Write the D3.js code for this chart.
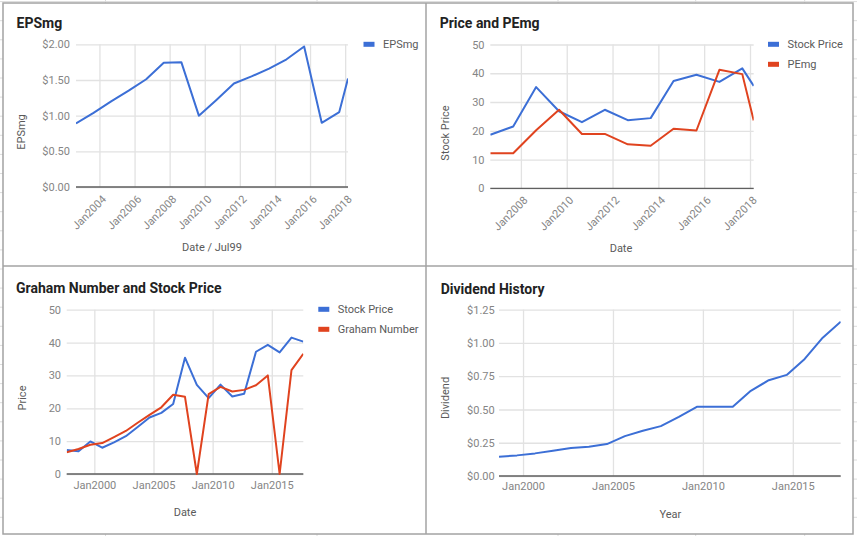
<!DOCTYPE html>
<html>
<head>
<meta charset="utf-8">
<script src="https://cdn.jsdelivr.net/npm/d3@7"></script>
<style>
  html, body { margin: 0; padding: 0; background: #fff; }
  svg { display: block; font-family: Roboto, "Noto Sans", sans-serif; }
</style>
</head>
<body>
<svg id="chart" width="857" height="536"></svg>
<script>
// ---------- DATA ----------
// Panel 1: EPSmg
const epsDates = ["2002-08-31","2003-08-31","2004-08-31","2005-08-31","2006-08-31","2007-08-31","2008-08-31","2009-08-31","2010-08-31","2011-08-31","2012-08-31","2013-08-31","2014-08-31","2015-08-31","2016-08-31","2017-08-31","2018-03-01"];
const epsValues = [0.89, 1.04, 1.20, 1.35, 1.51, 1.74, 1.75, 1.00, 1.22, 1.45, 1.55, 1.66, 1.79, 1.97, 0.90, 1.05, 1.52];
const epsYTicks = [0, 0.5, 1.0, 1.5, 2.0];
const epsXTicks = ["2004-01-01","2006-01-01","2008-01-01","2010-01-01","2012-01-01","2014-01-01","2016-01-01","2018-01-01"];

// Panel 2: Price and PEmg
const pePriceDates = ["2006-08-31","2007-08-31","2008-08-31","2009-08-31","2010-08-31","2011-08-31","2012-08-31","2013-08-31","2014-08-31","2015-08-31","2016-08-31","2017-08-31","2018-03-01"];
const pePrice = [18.6, 21.5, 35.2, 26.8, 23.0, 27.3, 23.7, 24.4, 37.3, 39.5, 37.0, 41.7, 35.6];
const peValues = [12.2, 12.2, 20.2, 27.3, 18.9, 18.9, 15.3, 14.8, 20.7, 20.1, 41.2, 39.7, 23.6];
const peYTicks = [0, 10, 20, 30, 40, 50];
const peXTicks = ["2008-01-01","2010-01-01","2012-01-01","2014-01-01","2016-01-01","2018-01-01"];

// Panel 3: Graham Number and Stock Price
const grahamDates = ["1997-08-31","1998-08-31","1999-08-31","2000-08-31","2001-08-31","2002-08-31","2003-08-31","2004-08-31","2005-08-31","2006-08-31","2007-08-31","2008-08-31","2009-08-31","2010-08-31","2011-08-31","2012-08-31","2013-08-31","2014-08-31","2015-08-31","2016-08-31","2017-08-31"];
const grahamPrice = [7.3, 6.9, 9.9, 8.0, 9.6, 11.5, 14.3, 17.2, 18.6, 21.3, 35.4, 27.1, 23.1, 27.2, 23.6, 24.4, 37.2, 39.3, 37.0, 41.5, 40.3];
const grahamNumber = [6.6, 7.6, 8.9, 9.4, 11.2, 13.1, 15.6, 18.0, 20.3, 24.1, 23.5, 0, 24.3, 26.5, 25.1, 25.6, 27.0, 30.0, 0, 31.6, 36.6];
const grahamYTicks = [0, 10, 20, 30, 40, 50];
const grahamXTicks = ["2000-01-01","2005-01-01","2010-01-01","2015-01-01"];

// Panel 4: Dividend History
const divDates = ["1998-08-31","1999-08-31","2000-08-31","2001-08-31","2002-08-31","2003-08-31","2004-08-31","2005-08-31","2006-08-31","2007-08-31","2008-08-31","2009-08-31","2010-08-31","2011-08-31","2012-08-31","2013-08-31","2014-08-31","2015-08-31","2016-08-31","2017-08-31"];
const divValues = [0.145, 0.155, 0.17, 0.19, 0.21, 0.22, 0.24, 0.30, 0.34, 0.375, 0.445, 0.52, 0.52, 0.52, 0.64, 0.72, 0.76, 0.88, 1.04, 1.16];
const divYTicks = [0, 0.25, 0.5, 0.75, 1.0, 1.25];
const divXTicks = ["2000-01-01","2005-01-01","2010-01-01","2015-01-01"];

// ---------- STYLE ----------
const BLUE = "#3c6fd6";
const RED = "#e0431f";
const GRID = "#e2e2e2";
const TICK = "#858585";
const LABEL = "#5a5a5a";

const parse = d3.utcParse("%Y-%m-%d");
const fmtDollar = d => "$" + d3.format(".2f")(d);
const fmtInt = d => d3.format("d")(d);
const fmtJan = d3.utcFormat("Jan%Y");

const svg = d3.select("#chart");

// spreadsheet background grid
const bg = svg.append("g");
[105.5, 317, 558, 695.7, 804.7].forEach(x => {
  bg.append("line").attr("x1", x).attr("x2", x).attr("y1", 0).attr("y2", 536)
    .attr("stroke", "#dcdcdc").attr("stroke-width", 1);
});
d3.range(1.6, 536, 19.1).forEach(y => {
  bg.append("line").attr("x1", 0).attr("x2", 857).attr("y1", y).attr("y2", y)
    .attr("stroke", "#dcdcdc").attr("stroke-width", 1);
});
// white panels + borders
svg.append("rect").attr("x", 3).attr("y", 3).attr("width", 850).attr("height", 531)
  .attr("fill", "#fff").attr("stroke", "#a3a3a3").attr("stroke-width", 1.5);
svg.append("line").attr("x1", 426).attr("x2", 426).attr("y1", 3).attr("y2", 534)
  .attr("stroke", "#a3a3a3").attr("stroke-width", 1.5);
svg.append("line").attr("x1", 3).attr("x2", 853).attr("y1", 266).attr("y2", 266)
  .attr("stroke", "#a3a3a3").attr("stroke-width", 1.5);

function panel(cfg) {
  const g = svg.append("g");
  const dates = cfg.dates.map(parse);
  const x = d3.scaleUtc().domain([dates[0], dates[dates.length - 1]]).range([cfg.left, cfg.right]);
  const y = d3.scaleLinear().domain([0, cfg.yMax]).range([cfg.bottom, cfg.top]);

  // title
  g.append("text").attr("x", cfg.titleX).attr("y", cfg.titleY)
    .attr("font-size", 14).attr("font-weight", "bold").attr("fill", "#222").text(cfg.title);

  // horizontal grid
  const yAxis = d3.axisLeft(y).tickValues(cfg.yTicks).tickFormat(cfg.yFmt)
    .tickSize(-(cfg.right - cfg.left)).tickPadding(6);
  const ya = g.append("g").attr("transform", `translate(${cfg.left},0)`).call(yAxis);
  ya.select(".domain").remove();
  ya.selectAll(".tick line").attr("stroke", GRID).attr("stroke-width", 1.3);
  ya.selectAll(".tick text").attr("fill", TICK).attr("font-size", 11)
    .attr("font-family", "Roboto, sans-serif").attr("x", cfg.yLabelX - cfg.left);

  // vertical grid + labels
  const xt = cfg.xTicks.map(parse);
  const xAxis = d3.axisBottom(x).tickValues(xt).tickFormat(fmtJan)
    .tickSize(-(cfg.bottom - cfg.top)).tickPadding(0);
  const xa = g.append("g").attr("transform", `translate(0,${cfg.bottom})`).call(xAxis);
  xa.select(".domain").remove();
  xa.selectAll(".tick line").attr("stroke", GRID).attr("stroke-width", 1.3);
  const xtext = xa.selectAll(".tick text").attr("fill", TICK).attr("font-size", 11)
    .attr("font-family", "Roboto, sans-serif");
  if (cfg.rotate) {
    xtext.attr("text-anchor", "end").attr("y", 0).attr("dy", 0)
      .attr("transform", `translate(7,${cfg.xLabelY - cfg.bottom}) rotate(-45)`);
  } else {
    xtext.attr("y", cfg.xLabelY - cfg.bottom).attr("dy", 0);
  }

  // baseline
  g.append("line").attr("x1", cfg.left).attr("x2", cfg.right)
    .attr("y1", y(0)).attr("y2", y(0)).attr("stroke", "#5f5f5f").attr("stroke-width", 1.3);

  // axis titles
  g.append("text").attr("x", cfg.xTitleX).attr("y", cfg.xTitleY).attr("text-anchor", "middle")
    .attr("font-size", 11).attr("fill", LABEL).text(cfg.xTitle);
  g.append("text").attr("transform", `translate(${cfg.yTitleX},${cfg.yTitleY}) rotate(-90)`)
    .attr("text-anchor", "middle").attr("dy", "0.35em")
    .attr("font-size", 11).attr("fill", LABEL).text(cfg.yTitle);

  // lines
  const clipId = "clip" + cfg.title.replace(/\W/g, "");
  g.append("clipPath").attr("id", clipId).append("rect")
    .attr("x", cfg.left).attr("y", cfg.top - 5).attr("width", cfg.right - cfg.left)
    .attr("height", cfg.bottom - cfg.top + 10);
  cfg.series.forEach(s => {
    const line = d3.line().x((d, i) => x(dates[i])).y(d => y(d));
    g.append("path").datum(s.values).attr("d", line).attr("fill", "none")
      .attr("stroke", s.color).attr("stroke-width", 2).attr("stroke-linejoin", "round")
      .attr("clip-path", `url(#${clipId})`);
  });

  // legend
  if (cfg.legend) {
    cfg.series.forEach((s, i) => {
      const ly = cfg.legendY + i * 20;
      g.append("rect").attr("x", cfg.legendX).attr("y", ly - 2.5).attr("width", 11).attr("height", 5)
        .attr("fill", s.color);
      g.append("text").attr("x", cfg.legendX + 19.5).attr("y", ly).attr("dy", "0.35em")
        .attr("font-size", 11).attr("fill", LABEL).text(s.name);
    });
  }
}

panel({
  title: "EPSmg", titleX: 16.5, titleY: 28,
  dates: epsDates, left: 76, right: 348, top: 44.3, bottom: 187,
  yMax: 2, yTicks: epsYTicks, yFmt: fmtDollar, yLabelX: 70,
  xTicks: epsXTicks, rotate: true, xLabelY: 200,
  xTitle: "Date / Jul99", xTitleX: 212, xTitleY: 251,
  yTitle: "EPSmg", yTitleX: 21.5, yTitleY: 132,
  series: [{name: "EPSmg", values: epsValues, color: BLUE}],
  legend: true, legendX: 363.5, legendY: 44.3
});

panel({
  title: "Price and PEmg", titleX: 439.7, titleY: 28,
  dates: pePriceDates, left: 490.3, right: 753.7, top: 44.5, bottom: 188.3,
  yMax: 50, yTicks: peYTicks, yFmt: fmtInt, yLabelX: 484.5,
  xTicks: peXTicks, rotate: true, xLabelY: 201,
  xTitle: "Date", xTitleX: 621, xTitleY: 252,
  yTitle: "Stock Price", yTitleX: 444.7, yTitleY: 133,
  series: [{name: "Stock Price", values: pePrice, color: BLUE},
           {name: "PEmg", values: peValues, color: RED}],
  legend: true, legendX: 768, legendY: 44.3
});

panel({
  title: "Graham Number and Stock Price", titleX: 16, titleY: 293,
  dates: grahamDates, left: 66.7, right: 303.3, top: 309.7, bottom: 474,
  yMax: 50, yTicks: grahamYTicks, yFmt: fmtInt, yLabelX: 61,
  xTicks: grahamXTicks, rotate: false, xLabelY: 489,
  xTitle: "Date", xTitleX: 185, xTitleY: 516,
  yTitle: "Price", yTitleX: 21.7, yTitleY: 398,
  series: [{name: "Stock Price", values: grahamPrice, color: BLUE},
           {name: "Graham Number", values: grahamNumber, color: RED}],
  legend: true, legendX: 318.3, legendY: 309.3
});

panel({
  title: "Dividend History", titleX: 440.7, titleY: 293.5,
  dates: divDates, left: 499, right: 840.7, top: 309.7, bottom: 476,
  yMax: 1.25, yTicks: divYTicks, yFmt: fmtDollar, yLabelX: 494.7,
  xTicks: divXTicks, rotate: false, xLabelY: 490,
  xTitle: "Year", xTitleX: 670.3, xTitleY: 517.5,
  yTitle: "Dividend", yTitleX: 444.7, yTitleY: 398,
  series: [{name: "Dividend", values: divValues, color: BLUE}],
  legend: false
});
</script>
</body>
</html>
